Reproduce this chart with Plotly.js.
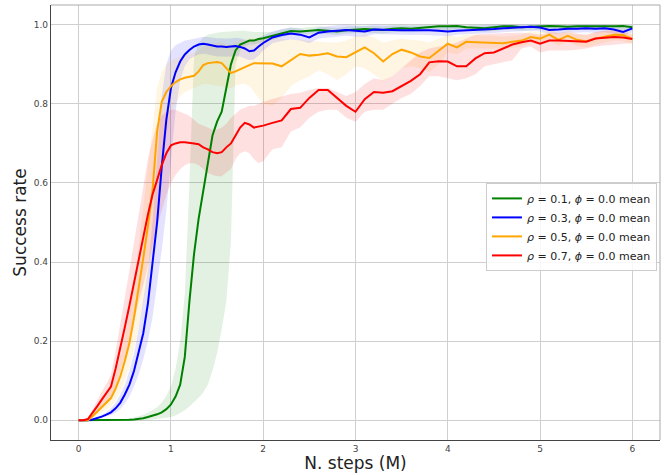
<!DOCTYPE html>
<html>
<head>
<meta charset="utf-8">
<script src="https://cdn.plot.ly/plotly-3.0.1.min.js"></script>
<style>html,body{margin:0;padding:0;background:#fff;}#chart{width:661px;height:473px;}</style>
</head>
<body>
<div id="chart"></div>
<script>
const steps = [0,0.05,0.1,0.15,0.2,0.25,0.3,0.35,0.4,0.45,0.5,0.55,0.6,0.65,0.7,0.75,0.8,0.85,0.9,0.95,1.0,1.05,1.1,1.15,1.2,1.25,1.3,1.35,1.4,1.45,1.5,1.55,1.6,1.65,1.7,1.75,1.8,1.85,1.9,1.95,2.0,2.1,2.2,2.3,2.4,2.5,2.6,2.7,2.8,2.9,3.0,3.1,3.2,3.3,3.4,3.5,3.6,3.7,3.8,3.9,4.0,4.1,4.2,4.3,4.4,4.5,4.6,4.7,4.8,4.9,5.0,5.1,5.2,5.3,5.4,5.5,5.6,5.7,5.8,5.9,6.0];

const seriesNames = ['<i>ρ</i> = 0.1, <i>ϕ</i> = 0.0 mean','<i>ρ</i> = 0.3, <i>ϕ</i> = 0.0 mean','<i>ρ</i> = 0.5, <i>ϕ</i> = 0.0 mean','<i>ρ</i> = 0.7, <i>ϕ</i> = 0.0 mean'];

const rho01Mean = [0,0,0,0,0,0,0,0,0,0,0.0005,
0.001,0.002,0.003,0.005,0.008,0.011,0.015,0.02,0.028,0.04,
0.06,0.09,0.16,0.3,0.42,0.51,0.58,0.65,0.72,0.755,
0.78,0.84,0.9,0.935,0.95,0.955,0.96,0.96,0.964,0.966,
0.972,0.978,0.984,0.983,0.985,0.987,0.985,0.983,0.986,0.988,
0.989,0.988,0.987,0.99,0.991,0.99,0.992,0.994,0.996,0.996,
0.997,0.994,0.992,0.991,0.994,0.996,0.996,0.994,0.995,0.996,
0.997,0.996,0.995,0.996,0.996,0.995,0.996,0.996,0.997,0.994];
const rho01Low = [0,0,0,0,0,0,0,0,0,0,0,
0,0,0,0,0,0.002,0.003,0.004,0.006,0.008,
0.012,0.018,0.025,0.035,0.045,0.057,0.07,0.09,0.125,0.17,
0.23,0.3,0.45,0.9,0.935,0.945,0.95,0.95,0.953,0.955,
0.962,0.968,0.975,0.974,0.976,0.978,0.976,0.974,0.977,0.979,
0.98,0.979,0.978,0.981,0.982,0.981,0.983,0.985,0.987,0.987,
0.988,0.985,0.983,0.982,0.985,0.987,0.987,0.985,0.986,0.987,
0.988,0.987,0.986,0.987,0.987,0.986,0.987,0.987,0.988,0.985];
const rho01High = [0,0,0,0,0,0,0,0.001,0.001,0.002,0.003,
0.005,0.007,0.01,0.014,0.019,0.025,0.033,0.045,0.062,0.085,
0.13,0.2,0.32,0.6,0.92,0.955,0.968,0.975,0.978,0.98,
0.982,0.983,0.984,0.985,0.985,0.985,0.983,0.982,0.982,0.982,
0.982,0.988,0.993,0.992,0.994,0.996,0.994,0.992,0.995,0.997,
0.998,0.997,0.996,0.999,1.0,0.999,1.0,1.0,1.0,1.0,
1.0,1.0,1.0,0.999,1.0,1.0,1.0,1.0,1.0,1.0,
1.0,1.0,1.0,1.0,1.0,1.0,1.0,1.0,1.0,1.0];

const rho03Mean = [0,0,0,0.002,0.005,0.009,0.014,0.02,0.03,0.044,0.065,
0.09,0.125,0.17,0.22,0.295,0.39,0.5,0.64,0.76,0.84,
0.88,0.907,0.925,0.936,0.945,0.95,0.952,0.95,0.947,0.945,
0.945,0.944,0.945,0.946,0.944,0.94,0.933,0.935,0.945,0.954,
0.968,0.974,0.978,0.975,0.968,0.98,0.983,0.985,0.987,0.985,
0.983,0.988,0.988,0.987,0.986,0.986,0.987,0.986,0.985,0.983,
0.985,0.986,0.986,0.987,0.989,0.991,0.992,0.993,0.995,0.993,
0.987,0.988,0.99,0.99,0.991,0.99,0.991,0.988,0.982,0.991];
const rho03Low = [0,0,0,0.001,0.003,0.006,0.009,0.013,0.019,0.028,0.042,
0.06,0.085,0.115,0.155,0.2,0.26,0.34,0.43,0.53,0.66,
0.78,0.86,0.895,0.912,0.92,0.925,0.927,0.925,0.922,0.92,
0.92,0.919,0.92,0.921,0.919,0.915,0.91,0.912,0.922,0.935,
0.953,0.959,0.963,0.96,0.953,0.965,0.968,0.97,0.972,0.97,
0.97,0.976,0.976,0.975,0.974,0.974,0.975,0.974,0.973,0.971,
0.975,0.976,0.976,0.977,0.979,0.981,0.982,0.983,0.985,0.983,
0.977,0.978,0.98,0.98,0.981,0.98,0.981,0.978,0.972,0.981];
const rho03High = [0,0,0,0.003,0.008,0.013,0.02,0.03,0.045,0.065,0.09,
0.125,0.17,0.23,0.3,0.38,0.5,0.66,0.82,0.9,0.935,
0.948,0.955,0.96,0.962,0.965,0.968,0.97,0.969,0.967,0.966,
0.966,0.965,0.966,0.967,0.966,0.963,0.958,0.96,0.967,0.972,
0.983,0.989,0.993,0.99,0.983,0.994,0.997,0.999,1.0,0.999,
0.997,1.0,1.0,0.999,0.998,0.998,0.999,0.998,0.997,0.995,
0.997,0.998,0.998,0.999,1.0,1.0,1.0,1.0,1.0,1.0,
0.997,0.998,1.0,1.0,1.0,1.0,1.0,0.998,0.992,1.0];

const rho05Mean = [0,0,0,0.01,0.022,0.034,0.045,0.056,0.08,0.11,0.15,
0.195,0.26,0.33,0.41,0.49,0.58,0.73,0.805,0.83,0.845,
0.855,0.862,0.866,0.868,0.871,0.882,0.898,0.903,0.905,0.906,
0.903,0.89,0.878,0.882,0.888,0.892,0.898,0.903,0.903,0.903,
0.902,0.895,0.91,0.926,0.922,0.924,0.928,0.92,0.918,0.93,
0.943,0.928,0.907,0.926,0.937,0.93,0.92,0.916,0.935,0.952,
0.943,0.957,0.956,0.955,0.955,0.953,0.957,0.96,0.969,0.965,
0.975,0.962,0.972,0.962,0.958,0.965,0.97,0.975,0.974,0.964];
const rho05Low = [0,0,0,0.005,0.012,0.02,0.028,0.035,0.05,0.07,0.1,
0.13,0.18,0.23,0.29,0.35,0.42,0.55,0.65,0.72,0.77,
0.8,0.82,0.83,0.835,0.84,0.845,0.85,0.85,0.848,0.845,
0.845,0.84,0.84,0.845,0.85,0.85,0.845,0.83,0.815,0.8,
0.795,0.815,0.845,0.86,0.87,0.885,0.875,0.86,0.875,0.895,
0.89,0.875,0.857,0.87,0.89,0.895,0.89,0.88,0.9,0.93,
0.925,0.94,0.94,0.94,0.94,0.938,0.942,0.945,0.954,0.95,
0.96,0.947,0.957,0.947,0.943,0.95,0.955,0.96,0.959,0.949];
const rho05High = [0,0,0,0.015,0.032,0.05,0.065,0.08,0.115,0.16,0.21,
0.27,0.35,0.44,0.54,0.64,0.74,0.84,0.88,0.9,0.91,
0.915,0.92,0.92,0.925,0.93,0.935,0.945,0.95,0.95,0.955,
0.955,0.95,0.95,0.955,0.96,0.962,0.965,0.966,0.966,0.966,
0.966,0.964,0.962,0.962,0.96,0.958,0.955,0.955,0.96,0.97,
0.975,0.968,0.955,0.96,0.965,0.962,0.96,0.955,0.965,0.975,
0.97,0.975,0.975,0.972,0.972,0.97,0.972,0.975,0.984,0.98,
0.99,0.977,0.987,0.977,0.973,0.98,0.985,0.99,0.989,0.979];

const rho07Mean = [0,0,0.003,0.018,0.035,0.052,0.068,0.085,0.13,0.18,0.235,
0.29,0.35,0.41,0.465,0.52,0.57,0.61,0.645,0.675,0.695,
0.70,0.703,0.703,0.702,0.70,0.698,0.69,0.685,0.678,0.675,
0.678,0.69,0.70,0.72,0.74,0.752,0.748,0.74,0.742,0.745,
0.752,0.758,0.787,0.79,0.815,0.835,0.835,0.815,0.795,0.78,
0.812,0.83,0.828,0.832,0.845,0.858,0.875,0.905,0.908,0.907,
0.895,0.895,0.915,0.928,0.93,0.94,0.95,0.956,0.96,0.952,
0.96,0.96,0.959,0.957,0.957,0.965,0.967,0.969,0.968,0.964];
const rho07Low = [0,0,0.001,0.008,0.02,0.033,0.045,0.055,0.085,0.12,0.16,
0.2,0.25,0.3,0.34,0.39,0.44,0.49,0.53,0.57,0.6,
0.62,0.635,0.645,0.65,0.65,0.645,0.635,0.625,0.62,0.617,
0.617,0.625,0.635,0.66,0.675,0.68,0.675,0.66,0.65,0.655,
0.685,0.69,0.73,0.74,0.765,0.78,0.785,0.785,0.765,0.755,
0.78,0.785,0.785,0.8,0.815,0.825,0.845,0.87,0.87,0.865,
0.86,0.865,0.875,0.895,0.9,0.905,0.91,0.94,0.945,0.93,
0.935,0.935,0.935,0.937,0.94,0.945,0.947,0.95,0.952,0.954];
const rho07High = [0,0,0.005,0.028,0.05,0.072,0.092,0.115,0.175,0.24,0.31,
0.38,0.45,0.52,0.59,0.66,0.71,0.75,0.77,0.78,0.785,
0.785,0.78,0.775,0.77,0.76,0.75,0.745,0.74,0.735,0.735,
0.74,0.75,0.765,0.775,0.785,0.79,0.795,0.795,0.8,0.805,
0.812,0.818,0.825,0.828,0.835,0.84,0.84,0.83,0.82,0.83,
0.85,0.865,0.86,0.87,0.89,0.91,0.93,0.94,0.945,0.948,
0.955,0.965,0.975,0.977,0.978,0.978,0.98,0.98,0.978,0.975,
0.98,0.98,0.98,0.977,0.975,0.982,0.985,0.985,0.983,0.975];

const xTicks = [0,1,2,3,4,5,6];
const yTicks = [0,0.2,0.4,0.6,0.8,1.0];

const colors = ['#008000','#0000ff','#ffa500','#ff0000'];
const fills = ['rgba(0,128,0,0.11)','rgba(0,0,255,0.11)','rgba(255,165,0,0.11)','rgba(255,0,0,0.12)'];
const means = [rho01Mean, rho03Mean, rho05Mean, rho07Mean];
const lows = [rho01Low, rho03Low, rho05Low, rho07Low];
const highs = [rho01High, rho03High, rho05High, rho07High];

const traces = [];
for (let i = 0; i < 4; i++) {
  traces.push({x: steps, y: lows[i], type: 'scatter', mode: 'lines', line: {width: 0, color: colors[i]}, showlegend: false, hoverinfo: 'skip'});
  traces.push({x: steps, y: highs[i], type: 'scatter', mode: 'lines', line: {width: 0, color: colors[i]}, fill: 'tonexty', fillcolor: fills[i], showlegend: false, hoverinfo: 'skip'});
}
for (let i = 0; i < 4; i++) {
  traces.push({x: steps, y: means[i], type: 'scatter', mode: 'lines', name: seriesNames[i], line: {width: 2, color: colors[i]}});
}

const layout = {
  width: 661, height: 473,
  margin: {l: 51, r: 1, t: 5, b: 33},
  paper_bgcolor: '#ffffff', plot_bgcolor: '#ffffff',
  font: {family: 'DejaVu Sans, sans-serif', color: '#333'},
  xaxis: {
    range: [-0.3, 6.3], tickvals: xTicks, ticktext: xTicks.map(String),
    showgrid: true, gridcolor: '#cfcfcf', gridwidth: 1, zeroline: false,
    showline: true, linecolor: '#444', linewidth: 1.2, mirror: false,
    ticks: '', tickfont: {size: 9, color: '#444'},
    title: {text: 'N. steps (M)', font: {size: 17, color: '#222'}, standoff: 4}
  },
  yaxis: {
    range: [-0.05, 1.05], tickvals: yTicks, ticktext: yTicks.map(v => v.toFixed(1)),
    showgrid: true, gridcolor: '#cfcfcf', gridwidth: 1, zeroline: false,
    showline: true, linecolor: '#444', linewidth: 1.2, mirror: false,
    ticks: '', tickfont: {size: 9, color: '#444'},
    title: {text: 'Success rate', font: {size: 17, color: '#222'}, standoff: 2}
  },
  shapes: [
    {type: 'line', xref: 'paper', yref: 'paper', x0: 0, x1: 1, y0: 1, y1: 1, line: {color: '#aaaaaa', width: 1}},
    {type: 'line', xref: 'paper', yref: 'paper', x0: 1, x1: 1, y0: 0, y1: 1, line: {color: '#aaaaaa', width: 1}}
  ],
  showlegend: true,
  legend: {
    x: 0.995, xanchor: 'right', y: 0.591, yanchor: 'top',
    traceorder: 'normal', itemwidth: 30,
    bgcolor: 'rgba(255,255,255,0.85)', bordercolor: '#cccccc', borderwidth: 1,
    font: {size: 11, color: '#222'}
  }
};

Plotly.newPlot('chart', traces, layout, {displayModeBar: false, staticPlot: true});
</script>
</body>
</html>
